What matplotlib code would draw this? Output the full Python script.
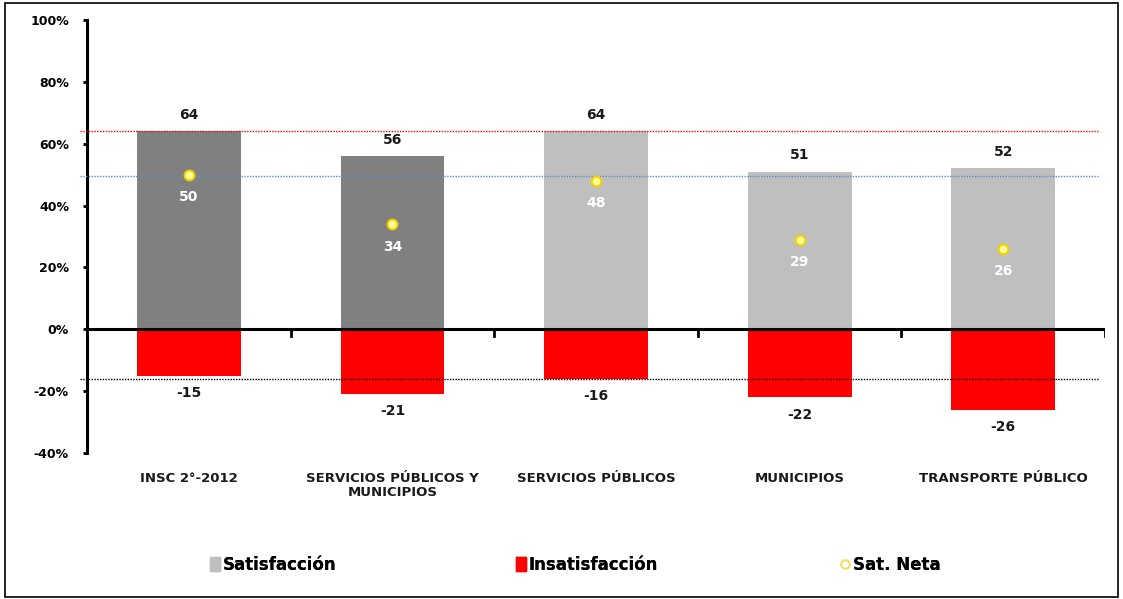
import matplotlib
matplotlib.use("Agg")
import matplotlib.pyplot as plt
from matplotlib.patches import Rectangle
from matplotlib.lines import Line2D

# data
categories = ["INSC 2°-2012", "SERVICIOS PÚBLICOS Y\nMUNICIPIOS", "SERVICIOS PÚBLICOS",
              "MUNICIPIOS", "TRANSPORTE PÚBLICO"]
satisfaccion = [64, 56, 64, 51, 52]
insatisfaccion = [-15, -21, -16, -22, -26]
sat_neta = [50, 34, 48, 29, 26]
ref_sat = 64
ref_neta = 49.5
ref_insat = -16
y_ticks = [-40, -20, 0, 20, 40, 60, 80, 100]

sat_colors = ["#808080", "#808080", "#BFBFBF", "#BFBFBF", "#BFBFBF"]
RED = "#FF0000"

plt.rcParams["font.family"] = ["DejaVu Sans"]
plt.rcParams["font.weight"] = "bold"

fig = plt.figure(figsize=(11.23, 5.99), dpi=100)
ax = fig.add_axes([0.0775, 0.2437, 0.9065, 0.7229])

x = list(range(len(categories)))
w = 0.51

ax.bar(x, satisfaccion, width=w, color=sat_colors, zorder=2)
ax.bar(x, insatisfaccion, width=w, color=RED, zorder=2)

# reference lines
x0, x1 = -0.535, 4.47
ax.hlines(ref_sat, x0, x1, colors=RED, linestyles=(0, (1, 1)), lw=1.0, clip_on=False, zorder=3)
ax.hlines(ref_neta, x0, x1, colors="#5B8FC9", linestyles=(0, (1, 1)), lw=1.0, clip_on=False, zorder=3)
ax.hlines(ref_insat, x0, x1, colors="black", linestyles=(0, (1, 1)), lw=1.0, clip_on=False, zorder=3)

# zero line + category boundary ticks
ax.axhline(0, color="black", lw=2.2, zorder=4)
for b in [i + 0.5 for i in x]:
    ax.plot([b, b], [0, -2.2], color="black", lw=2, zorder=4)

# net satisfaction markers
ax.plot(x, sat_neta, ls="none", marker="o", ms=7, mfc="#FFFF99", mec="#F5D000",
        mew=1.5, zorder=5)

for i in x:
    ax.text(i, satisfaccion[i] + 3, str(satisfaccion[i]), ha="center", va="bottom",
            fontsize=10, fontweight="bold", color="#1a1a1a")
    ax.text(i, insatisfaccion[i] - 3.3, str(insatisfaccion[i]), ha="center", va="top",
            fontsize=10, fontweight="bold", color="#1a1a1a")
    ax.text(i, sat_neta[i] - 5, str(sat_neta[i]), ha="center", va="top",
            fontsize=10, fontweight="bold", color="white", zorder=6)
    ax.text(i, -46, categories[i], ha="center", va="top", fontsize=9.5,
            fontweight="bold", color="#1a1a1a", linespacing=1.1)

ax.set_xlim(-0.5, 4.5)
ax.set_ylim(-40, 100)
ax.set_yticks(y_ticks)
ax.set_yticklabels([f"{t}%" for t in y_ticks], fontsize=9, fontweight="bold")
ax.set_xticks([])
for s in ["top", "right", "bottom"]:
    ax.spines[s].set_visible(False)
ax.spines["left"].set_linewidth(2.2)
ax.tick_params(axis="y", length=3, width=2, pad=10)

# legend entries placed individually (uneven spacing in the reference)
h_sat = Rectangle((0, 0), 1, 1, color="#BFBFBF")
h_ins = Rectangle((0, 0), 1, 1, color=RED)
h_net = Line2D([], [], ls="none", marker="o", ms=6, mfc="white", mec="#F0E070", mew=1.5)
for h, lab, xp in [(h_sat, "Satisfacción", 0.180), (h_ins, "Insatisfacción", 0.452),
                   (h_net, "Sat. Neta", 0.741)]:
    lg = fig.legend([h], [lab], loc="center left", bbox_to_anchor=(xp, 0.057),
                    frameon=False, handlelength=0.6, handleheight=0.9, handletextpad=0.15,
                    prop={"size": 12, "weight": "bold"}, borderpad=0)
    fig.add_artist(lg)

fig.patches.append(Rectangle((5 / 1123, 2 / 599), 1113 / 1123, 594 / 599,
                             transform=fig.transFigure, fill=False, ec="black", lw=1.2))

fig.savefig("out.png", dpi=100, facecolor="white")
